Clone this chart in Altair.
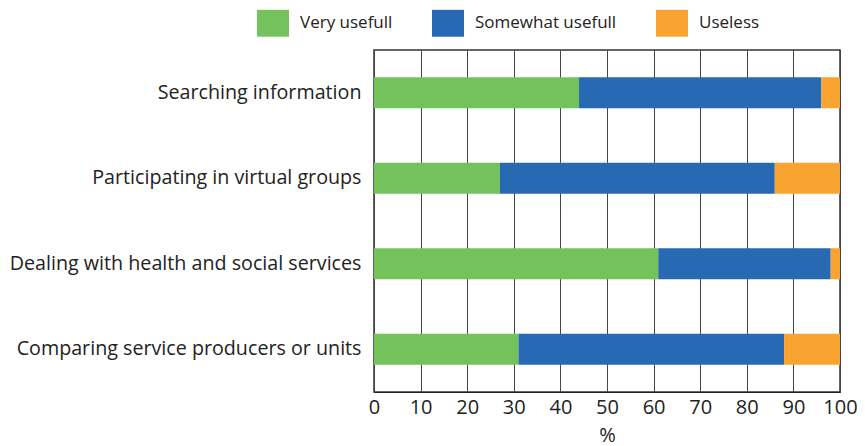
import altair as alt
import pandas as pd

categories = ["Searching information", "Participating in virtual groups",
              "Dealing with health and social services", "Comparing service producers or units"]
series = ["Very usefull", "Somewhat usefull", "Useless"]
very = [44, 27, 61, 31]
somewhat = [52, 59, 37, 57]
useless = [4, 14, 2, 12]
colors = ["#74C25B", "#2769B2", "#F9A331"]
x_ticks = [0, 10, 20, 30, 40, 50, 60, 70, 80, 90, 100]

rows = []
for i, c in enumerate(categories):
    for j, (s, vals) in enumerate(zip(series, [very, somewhat, useless])):
        rows.append({"category": c, "series": s, "value": vals[i], "order": j})
df = pd.DataFrame(rows)

FONT = "Open Sans"

chart = alt.Chart(df).mark_bar(size=31).encode(
    x=alt.X("value:Q", stack="zero",
            scale=alt.Scale(domain=[0, 100], nice=False),
            axis=alt.Axis(values=x_ticks, title="%", grid=True, gridColor="#444", gridOpacity=1,
                          ticks=False, domain=True, domainColor="#222", labelPadding=5,
                          labelFlush=False, labelOverlap=False, titlePadding=8)),
    y=alt.Y("category:N", sort=categories,
            scale=alt.Scale(paddingInner=0, paddingOuter=0),
            axis=alt.Axis(title=None, ticks=False, domain=False, labelPadding=13,
                          labelLimit=500, labelFontSize=19.7)),
    color=alt.Color("series:N", sort=series,
                    scale=alt.Scale(domain=series, range=colors),
                    legend=alt.Legend(title=None, orient="none", direction="horizontal",
                                      legendX=-117, legendY=-43,
                                      symbolType="M-1,-0.84H1V0.84H-1Z", symbolSize=1024,
                                      symbolStrokeWidth=0, symbolOpacity=1,
                                      labelOffset=11, columnPadding=39)),
    order=alt.Order("order:Q"),
).properties(
    width=466, height=342,
    autosize=alt.AutoSizeParams(type="none"),
    padding={"left": 366, "top": 42, "right": 17, "bottom": 60},
).configure_view(
    stroke="#333", strokeWidth=1.5
).configure_axis(
    labelFont=FONT, titleFont=FONT, labelFontSize=20, titleFontSize=20,
    labelColor="#222", titleColor="#222", titleFontWeight="normal"
).configure_legend(
    labelFont=FONT, labelFontSize=17, labelColor="#222"
)

chart.save("out.html", embed_options={"renderer": "svg", "actions": False})
